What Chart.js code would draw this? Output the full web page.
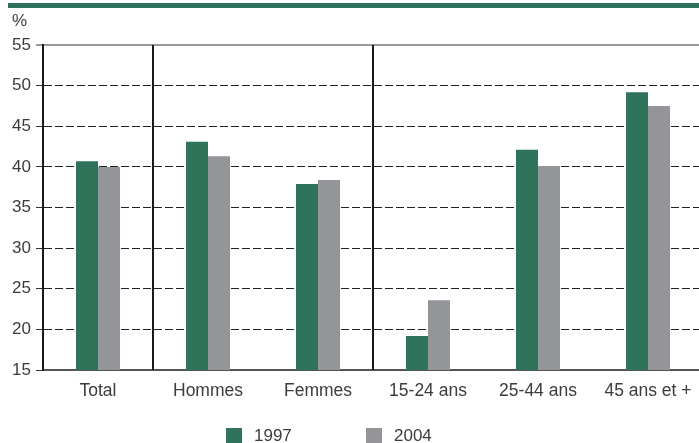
<!DOCTYPE html>
<html>
<head>
<meta charset="utf-8">
<script src="https://cdn.jsdelivr.net/npm/chart.js@4/dist/chart.umd.min.js"></script>
<style>
  html, body { margin: 0; padding: 0; background: #fff; overflow: hidden; }
  #wrap { width: 704px; height: 443px; }
</style>
</head>
<body>
<div id="wrap"><canvas id="graf"></canvas></div>
<script>
const categories = ['Total', 'Hommes', 'Femmes', '15-24 ans', '25-44 ans', '45 ans et +'];
const seriesNames = ['1997', '2004'];
const values1997 = [40.7, 43.1, 37.9, 19.2, 42.1, 49.2];
const values2004 = [40.0, 41.3, 38.4, 23.6, 40.1, 47.5];
const yMin = 15, yMax = 55, yStep = 5;
// groupes séparés par un trait vertical après ces catégories
const groupBreaks = [0, 2];

const VERT = '#2f735a';
const GRIS = '#939598';
const TEXTE = '#3c3c3c';
const FONT = "'Liberation Sans', Arial, sans-serif";

// bandeau vert, symbole %, séparateurs et légende
const decor = {
  id: 'decor',
  beforeDraw(chart) {
    const ctx = chart.ctx;
    ctx.save();
    ctx.fillStyle = VERT;
    ctx.fillRect(8, 3, chart.width, 5);
    ctx.fillStyle = TEXTE;
    ctx.font = '17px ' + FONT;
    ctx.textBaseline = 'middle';
    ctx.fillText('%', 12, 21);
    ctx.restore();
  },
  afterDatasetsDraw(chart) {
    const ctx = chart.ctx;
    const x = chart.scales.x;
    const area = chart.chartArea;
    ctx.save();
    ctx.strokeStyle = '#1a1a1a';
    ctx.lineWidth = 2;
    groupBreaks.forEach(i => {
      const px = Math.round((x.getPixelForValue(i) + x.getPixelForValue(i + 1)) / 2);
      ctx.beginPath();
      ctx.moveTo(px, area.top);
      ctx.lineTo(px, area.bottom);
      ctx.stroke();
    });
    ctx.restore();
  },
  afterDraw(chart) {
    const ctx = chart.ctx;
    const pos = [226, 366];
    ctx.save();
    ctx.font = '17px ' + FONT;
    ctx.textBaseline = 'middle';
    chart.data.datasets.forEach((ds, i) => {
      ctx.fillStyle = ds.backgroundColor;
      ctx.fillRect(pos[i], 428, 16, 16);
      ctx.fillStyle = TEXTE;
      ctx.fillText(ds.label, pos[i] + 28, 436);
    });
    ctx.restore();
  }
};

new Chart(document.getElementById('graf'), {
  type: 'bar',
  data: {
    labels: categories,
    datasets: [
      { label: seriesNames[0], data: values1997, backgroundColor: VERT },
      { label: seriesNames[1], data: values2004, backgroundColor: GRIS }
    ]
  },
  options: {
    responsive: true,
    maintainAspectRatio: false,
    animation: false,
    events: [],
    layout: { padding: { top: 45, right: 1, bottom: 0, left: 0 } },
    datasets: {
      bar: { barPercentage: 1, categoryPercentage: 0.4 }
    },
    plugins: {
      legend: { display: false },
      tooltip: { enabled: false }
    },
    scales: {
      x: {
        grid: { display: false, drawTicks: false },
        border: { display: true, color: '#555', width: 2 },
        ticks: { color: TEXTE, font: { family: FONT, size: 17.5 }, padding: 11 },
        afterFit(s) { s.height = 73; }
      },
      y: {
        min: yMin,
        max: yMax,
        ticks: {
          stepSize: yStep,
          color: TEXTE,
          padding: 5,
          font: { family: FONT, size: 17 }
        },
        grid: {
          color: c => c.tick && c.tick.value === yMax ? '#999' : (c.tick && c.tick.value === yMin ? 'rgba(0,0,0,0)' : '#222'),
          lineWidth: c => c.tick && c.tick.value === yMax ? 2 : 1,
          tickColor: '#333',
          tickLength: 7,
          tickWidth: 1
        },
        border: {
          color: '#1a1a1a',
          width: 2,
          dash: c => (c.tick && c.tick.value !== yMax) ? [8, 3] : []
        },
        afterFit(s) { s.width = 43; }
      }
    }
  },
  plugins: [decor]
});
</script>
</body>
</html>
